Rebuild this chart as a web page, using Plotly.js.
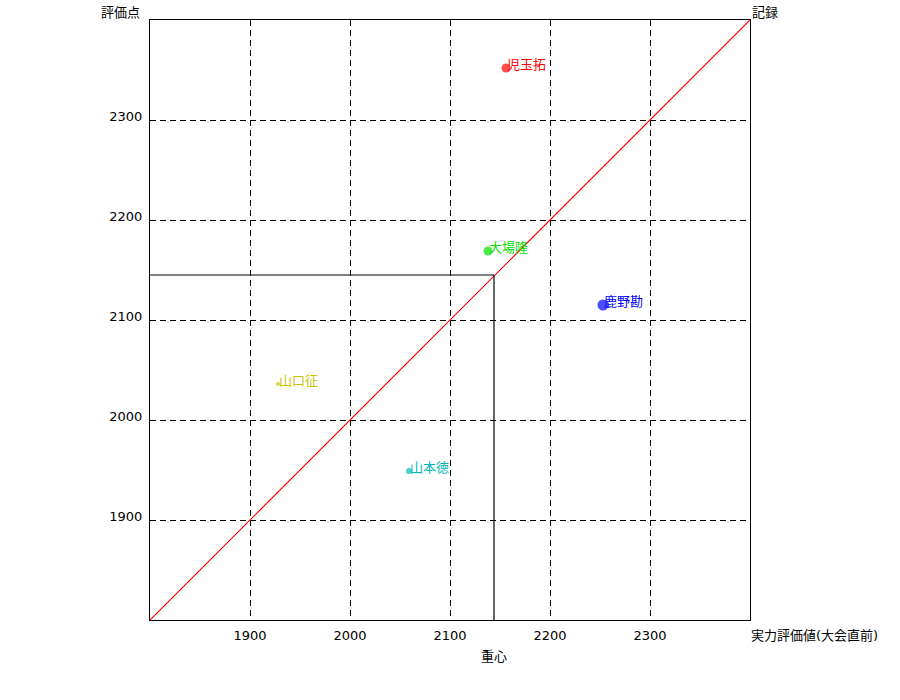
<!DOCTYPE html>
<html><head><meta charset="utf-8">
<script src="https://cdn.plot.ly/plotly-3.0.1.min.js"></script>
<style>html,body{margin:0;padding:0;background:#fff}</style>
</head><body>
<div id="chart" style="width:900px;height:700px"></div>
<script>
const names = ["児玉拓", "大場隆", "鹿野勘", "山口征", "山本徳"];
const rating = [2156, 2138, 2253, 1928, 2059];
const score = [2352, 2169, 2115, 2036, 1949];
const colors = ["#ff0000", "#00e000", "#0000ff", "#c8c400", "#00b8b8"];
const sizes = [9, 9, 11, 4, 6];
const tickVals = [1900, 2000, 2100, 2200, 2300];
const axisRange = [1800, 2400];
const centroid = [2144, 2145];

const font = "DejaVu Sans, Noto Sans CJK JP, sans-serif";

const traces = [
  {x: rating, y: score, mode: "markers", marker: {color: colors, size: sizes, line: {width: 0}}, showlegend: false}
];

const shapes = [
  {type: "line", xref: "x", yref: "y", x0: axisRange[0], y0: axisRange[0], x1: axisRange[1], y1: axisRange[1], line: {color: "#ff0000", width: 1.2}, layer: "above"},
  {type: "line", xref: "x", yref: "y", x0: axisRange[0], y0: centroid[1], x1: centroid[0], y1: centroid[1], line: {color: "#000000", width: 1.2}, layer: "above"},
  {type: "line", xref: "x", yref: "y", x0: centroid[0], y0: centroid[1], x1: centroid[0], y1: axisRange[0], line: {color: "#000000", width: 1.2}, layer: "above"}
];

const annotations = names.map((n, i) => ({
  x: rating[i], y: score[i], text: n, showarrow: false, xanchor: "left", yanchor: "middle",
  xshift: -1, yshift: 4, font: {family: font, size: 13, color: colors[i]}
}));
annotations.push(
  {xref: "paper", yref: "paper", x: 0, y: 1, text: "評価点", showarrow: false, xanchor: "right", yanchor: "bottom", xshift: -8, yshift: -2, font: {family: font, size: 13, color: "#000"}},
  {xref: "paper", yref: "paper", x: 1, y: 1, text: "記録", showarrow: false, xanchor: "left", yanchor: "bottom", xshift: 0, yshift: -2, font: {family: font, size: 13, color: "#000"}},
  {xref: "paper", yref: "paper", x: 1, y: 0, text: "実力評価値(大会直前)", showarrow: false, xanchor: "left", yanchor: "top", xshift: -1, yshift: -6, font: {family: font, size: 13, color: "#000"}},
  {xref: "x", yref: "paper", x: centroid[0], y: 0, text: "重心", showarrow: false, xanchor: "center", yanchor: "top", yshift: -27, font: {family: font, size: 13, color: "#000"}}
);

const layout = {
  width: 900, height: 700,
  margin: {l: 150, r: 150, t: 20, b: 80, pad: 0},
  paper_bgcolor: "#fff", plot_bgcolor: "#fff",
  font: {family: font, size: 13, color: "#000"},
  xaxis: {range: axisRange, tickvals: tickVals, showgrid: true, gridcolor: "#000", griddash: "6px,4px", gridwidth: 1,
    zeroline: false, showline: true, linecolor: "#000", linewidth: 1, mirror: true, ticks: "", ticklen: 0,
    ticklabelstandoff: 3, tickfont: {size: 13}},
  yaxis: {range: axisRange, tickvals: tickVals, showgrid: true, gridcolor: "#000", griddash: "6px,4px", gridwidth: 1,
    zeroline: false, showline: true, linecolor: "#000", linewidth: 1, mirror: true, ticks: "", ticklen: 0,
    ticklabelstandoff: 4, ticklabelshift: -4, tickfont: {size: 13}},
  shapes: shapes,
  annotations: annotations,
  showlegend: false
};

Plotly.newPlot("chart", traces, layout, {displayModeBar: false, staticPlot: true});
</script>
</body></html>
